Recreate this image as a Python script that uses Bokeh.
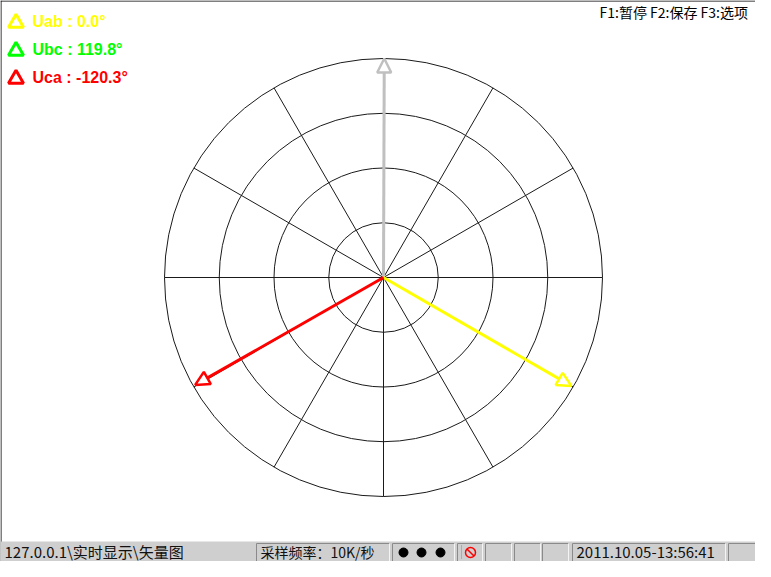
import math
from bokeh.plotting import figure
from bokeh.models import Range1d, Arrow, NormalHead
from bokeh.core.properties import value
from bokeh.embed import file_html
from bokeh.resources import INLINE

# ---------------- data ----------------
phasor_names = ["Uab", "Ubc", "Uca"]
phasor_angles = [0.0, 119.8, -120.3]          # degrees
phasor_mags = [0.99, 1.0, 0.99]               # relative to full-scale ring
legend_colors = ["#ffff00", "#00ff00", "#ff0000"]
arrow_colors = ["#ffff00", "#c0c0c0", "#ff0000"]
ring_levels = [0.25, 0.5, 0.75, 1.0]
spoke_angles = [0, 30, 60, 90, 120, 150, 180, 210, 240, 270, 300, 330]
display_offset = -30.0                          # drawing reference rotation

menu_text = "F1:暂停 F2:保存 F3:选项"
status_path = "127.0.0.1\\实时显示\\矢量图"
status_rate = "采样频率：10K/秒"
status_time = "2011.10.05-13:56:41"

# ---------------- layout ----------------
W, H = 755, 561
CX, CY = 383, 277          # centre of the polar diagram
R = 219                     # outer ring radius
SB = 16                     # status-bar y shift (page -> data)

p = figure(width=W, height=H, x_range=Range1d(0, W), y_range=Range1d(H, 0),
           output_backend="svg", toolbar_location=None, min_border=0,
           x_axis_type=None, y_axis_type=None, outline_line_color=None,
           background_fill_color="white", border_fill_color="white")
p.grid.visible = False

# window border (left/top)
p.segment(x0=[0.5, 0], y0=[0, 0.5], x1=[0.5, W], y1=[H, 0.5], line_color="black", line_width=1)

# polar grid
p.circle(x=[CX] * len(ring_levels), y=[CY] * len(ring_levels),
         radius=[lv * R for lv in ring_levels], fill_color=None,
         line_color="#1a1a1a", line_width=1)
sx1 = [CX + R * math.cos(math.radians(a)) for a in spoke_angles]
sy1 = [CY - R * math.sin(math.radians(a)) for a in spoke_angles]
p.segment(x0=[CX] * len(spoke_angles), y0=[CY] * len(spoke_angles), x1=sx1, y1=sy1,
          line_color="#1a1a1a", line_width=1)

# phasors
order = [1, 0, 2]
for i in order:
    th = math.radians(phasor_angles[i] + display_offset)
    xe = CX + phasor_mags[i] * R * math.cos(th)
    ye = CY - phasor_mags[i] * R * math.sin(th)
    c = arrow_colors[i]
    p.add_layout(Arrow(end=NormalHead(size=14, fill_color="white", line_color=c, line_width=2.5),
                       x_start=CX, y_start=CY, x_end=xe, y_end=ye,
                       line_color=c, line_width=3))

# legend
leg_y = [20.5, 48.5, 76.7]
p.scatter(x=[15.5] * 3, y=[y + 1.8 for y in leg_y], marker="triangle", size=15,
          fill_color="white", line_color=legend_colors, line_width=3)
leg_text = ["%s : %.1f°" % (n, a) for n, a in zip(phasor_names, phasor_angles)]
p.text(x=[32] * 3, y=leg_y, text=leg_text, text_color=legend_colors,
       text_font=value("Liberation Sans"), text_font_style="bold",
       text_font_size="16px", text_baseline="middle", text_align="left")

# menu text (top right)
p.text(x=[599], y=[11], text=[menu_text], text_color="black",
       text_font=value("Noto Sans CJK SC"), text_font_size="14px",
       text_baseline="middle", text_align="left")

# ---------------- status bar ----------------
bar_top = 557 - SB
p.quad(left=[0], right=[W], top=[bar_top], bottom=[H + 5], fill_color="#cfcfcf", line_color=None)
panels = [(264, 397), (400, 462), (465, 490), (493, 519), (522, 548), (550, 576), (580, 733), (736, 800)]
ptop = 559 - SB
lx = [a - 8 for a, b in panels]
rx = [b - 8 for a, b in panels]
# dark top / left edges
p.segment(x0=lx, y0=[ptop] * len(panels), x1=rx, y1=[ptop] * len(panels), line_color="#8a8a8a", line_width=1)
p.segment(x0=lx, y0=[ptop] * len(panels), x1=lx, y1=[H + 5] * len(panels), line_color="#8a8a8a", line_width=1)
# light right edges
p.segment(x0=rx, y0=[ptop] * len(panels), x1=rx, y1=[H + 5] * len(panels), line_color="#f4f4f4", line_width=1)

ty = 551
p.text(x=[4, 576], y=[ty, ty], text=[status_path, status_time],
       text_color="#111111", text_font=value("Noto Sans CJK SC"), text_font_size="15px",
       text_baseline="middle", text_align="left")
p.text(x=[260], y=[ty], text=[status_rate],
       text_color="#111111", text_font=value("Noto Sans CJK SC"), text_font_size="14px",
       text_baseline="middle", text_align="left")

# indicator dots
p.scatter(x=[403, 421, 440], y=[ty + 1] * 3, marker="circle", size=9, fill_color="black", line_color="black")
# "no" icon
p.segment(x0=[461], y0=[ty - 6], x1=[461], y1=[ty + 8], line_color="#888888", line_dash="1 1")
p.circle(x=[470], y=[ty + 1], radius=5, fill_color=None, line_color="#ff0000", line_width=1.5)
p.segment(x0=[466.5], y0=[ty - 2.5], x1=[473.5], y1=[ty + 4.5], line_color="#ff0000", line_width=1.5)

open("out.html", "w").write(file_html(p, INLINE))
